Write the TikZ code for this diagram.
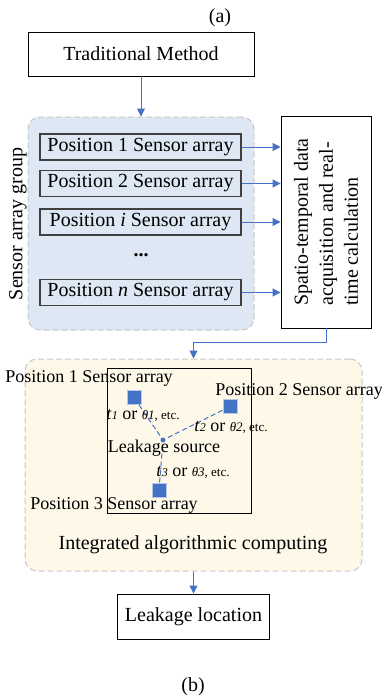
\documentclass[tikz,border=0pt]{standalone}
\usepackage{fontspec}
\setmainfont{Liberation Serif}
\usetikzlibrary{positioning, arrows.meta}
\definecolor{arrowblue}{HTML}{4472C4}
\definecolor{groupblue}{HTML}{DEE8F4}
\definecolor{groupyellow}{HTML}{FDF8E8}
\definecolor{dashgray}{HTML}{C8C8C8}
\newcommand{\bigfont}{\fontsize{20}{25}\selectfont}
\newcommand{\smallfont}{\fontsize{18}{20}\selectfont}
\tikzset{
	edge/.style={draw=arrowblue, line width=1pt, -{Triangle[length=8pt, width=8pt]}},
	plain box/.style={
		rectangle,
		draw=black,
		line width=0.9pt,
		fill=white,
		align=center,
		inner sep=0pt,
		font=\bigfont
	},
	sensor box/.style={
		rectangle,
		draw=black!75,
		line width=1.4pt,
		fill=groupblue,
		minimum width=201pt,
		minimum height=26pt,
		inner sep=0pt,
		font=\bigfont
	},
	group/.style={
		rectangle,
		rounded corners=12pt,
		draw=dashgray,
		dash pattern=on 6pt off 3pt,
		line width=1pt,
		inner sep=0pt
	},
	sensor/.style={rectangle, fill=arrowblue, draw=arrowblue!40, line width=1pt, minimum size=14pt, inner sep=0pt},
	small label/.style={inner sep=0pt, font=\smallfont},
	link/.style={draw=arrowblue, dash pattern=on 5pt off 3pt, line width=1pt}
}
\newcommand{\sensorrow}[3]{% node name, position label, y
	\node[sensor box] (#1) at (140.5,#3) {Position #2 Sensor array};
	\draw[edge] (#1.east) -- (#1.east -| acq.west)
}
\newcommand{\tlabel}[1]{% index of the sensor
	\textit{t}{\fontsize{12}{12}\selectfont\textit{#1}} or {\fontsize{13}{13}\selectfont\textit{θ#1}, etc.}
}

\begin{document}
\begin{tikzpicture}[x=1pt, y=-1pt]
	\useasboundingbox (0,0) rectangle (382,696);
	\node[inner sep=0pt, font=\bigfont] (lbla) at (220,18) {(a)};
	\node[plain box, minimum width=226pt, minimum height=44pt] (trad) at (141,54) {Traditional Method};
	
	\node[group, fill=groupblue, minimum width=226pt, minimum height=213pt] (sgroup) at (141,223.5) {};
	\node[rotate=90, inner sep=0pt, font=\bigfont] (glabel) at (18,224) {Sensor array group};
	\node[plain box, minimum width=90pt, minimum height=212pt] (acq) at (326,222) {};
	\node[rotate=90, align=left, inner sep=0pt, font=\bigfont] (acqtext) at (acq.center) {Spatio-temporal data\\acquisition and real-\\time calculation};
	
	\sensorrow{s1}{1}{147};
	\sensorrow{s2}{2}{183.5};
	\sensorrow{si}{\textit{i}}{222};
	\node[inner sep=0pt, font=\bigfont] (dots) at (141,255) {\textbf{...}};
	\sensorrow{sn}{\textit{n}}{292.5};
	
	\draw[edge] (trad.south) -- (sgroup.north);
	
	\node[group, fill=groupyellow, minimum width=337pt, minimum height=212pt] (integ) at (193.5,465) {};
	\draw[edge] (acq.south) -- ++(0,14) -| (integ.north);
	\node[rectangle, draw=black, line width=0.9pt, minimum width=144pt, minimum height=145pt] (field) at (179,440.5) {};
	
	\node[sensor] (sq1) at (134,397.5) {};
	\node[sensor] (sq2) at (230,406.5) {};
	\node[sensor] (sq3) at (159,490) {};
	\node[circle, fill=arrowblue, minimum size=5pt, inner sep=0pt] (src) at (163,440) {};
	\draw[link] (sq1) -- (src);
	\draw[link] (sq2) -- (src);
	\draw[link] (sq3) -- (src);
	
	\node[small label] (p1) at (89,378) {Position 1 Sensor array};
	\node[small label] (p2) at (299,391) {Position 2 Sensor array};
	\node[small label] (p3) at (114,505) {Position 3 Sensor array};
	\node[small label] (srclabel) at (164,448) {Leakage source};
	\node[small label] (t1) at (143,415) {\tlabel{1}};
	\node[small label] (t2) at (231,427) {\tlabel{2}};
	\node[small label] (t3) at (193,472) {\tlabel{3}};
	\node[inner sep=0pt, font=\bigfont] (integtext) at (193,545) {Integrated algorithmic computing};
	
	\node[plain box, minimum width=152pt, minimum height=45pt] (loc) at (193.5,616.5) {Leakage location};
	\draw[edge] (integ.south) -- (loc.north);
	\node[inner sep=0pt, font=\bigfont] (lblb) at (193,687) {(b)};
\end{tikzpicture}
\end{document}
